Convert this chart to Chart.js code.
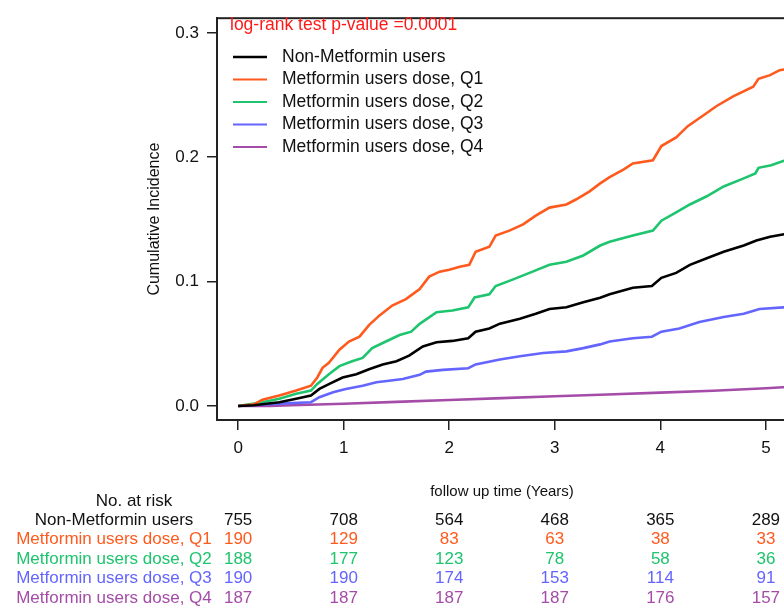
<!DOCTYPE html>
<html>
<head>
<meta charset="utf-8">
<script src="https://cdn.jsdelivr.net/npm/chart.js@4.4.0/dist/chart.umd.min.js"></script>
<style>
  body { margin: 0; overflow: hidden; background: #fff; }
</style>
</head>
<body>
<canvas id="kmChart" width="800" height="610"></canvas>
<script>
// follow-up years and cumulative incidence
const nonTime = [0, 0.15, 0.39, 0.55, 0.69, 0.77, 0.86, 0.99, 1.12, 1.24, 1.37, 1.50, 1.62, 1.75, 1.88, 2.03, 2.18, 2.25, 2.38, 2.48, 2.67, 2.82, 2.95, 3.11, 3.27, 3.43, 3.52, 3.74, 3.92, 4.01, 4.15, 4.28, 4.44, 4.60, 4.79, 4.91, 5.04, 5.20]
const nonInc = [0, 0.0006, 0.003, 0.0058, 0.0084, 0.0137, 0.0176, 0.0229, 0.0255, 0.0295, 0.0334, 0.036, 0.0405, 0.0478, 0.0512, 0.0523, 0.0544, 0.0597, 0.0623, 0.0662, 0.0701, 0.0741, 0.078, 0.0793, 0.0833, 0.087, 0.0898, 0.095, 0.0964, 0.103, 0.107, 0.1135, 0.1187, 0.124, 0.129, 0.133, 0.136, 0.1385]

const q1Time = [0, 0.15, 0.23, 0.39, 0.55, 0.69, 0.75, 0.80, 0.86, 0.96, 1.05, 1.15, 1.24, 1.34, 1.46, 1.59, 1.72, 1.81, 1.91, 2.0, 2.1, 2.19, 2.25, 2.38, 2.44, 2.57, 2.70, 2.82, 2.95, 3.11, 3.20, 3.33, 3.43, 3.52, 3.65, 3.74, 3.93, 4.01, 4.15, 4.26, 4.44, 4.53, 4.69, 4.88, 4.93, 5.04, 5.13, 5.20]
const q1Inc = [0, 0.0013, 0.005, 0.0084, 0.0124, 0.0163, 0.0229, 0.0307, 0.0347, 0.0452, 0.0518, 0.0557, 0.065, 0.0728, 0.0807, 0.0859, 0.094, 0.104, 0.108, 0.1095, 0.112, 0.1135, 0.124, 0.128, 0.137, 0.141, 0.146, 0.153, 0.1595, 0.162, 0.166, 0.1726, 0.179, 0.184, 0.190, 0.195, 0.1976, 0.209, 0.216, 0.225, 0.2356, 0.241, 0.249, 0.2567, 0.263, 0.266, 0.270, 0.271]

const q2Time = [0, 0.23, 0.39, 0.55, 0.69, 0.75, 0.86, 0.96, 1.08, 1.18, 1.27, 1.40, 1.53, 1.64, 1.72, 1.88, 2.03, 2.18, 2.24, 2.38, 2.44, 2.60, 2.79, 2.95, 3.11, 3.27, 3.43, 3.52, 3.74, 3.93, 4.01, 4.15, 4.28, 4.44, 4.60, 4.79, 4.90, 4.93, 5.05, 5.20]
const q2Inc = [0, 0.003, 0.0058, 0.0098, 0.0124, 0.0177, 0.0255, 0.032, 0.036, 0.0386, 0.0465, 0.0518, 0.057, 0.0597, 0.066, 0.0754, 0.0767, 0.0793, 0.0872, 0.0898, 0.0964, 0.1016, 0.108, 0.1135, 0.116, 0.121, 0.129, 0.132, 0.137, 0.141, 0.149, 0.1556, 0.162, 0.1686, 0.1765, 0.183, 0.187, 0.1915, 0.1936, 0.198]

const q3Time = [0, 0.39, 0.69, 0.77, 0.90, 1.02, 1.18, 1.31, 1.43, 1.56, 1.72, 1.78, 1.94, 2.18, 2.25, 2.48, 2.67, 2.89, 3.11, 3.27, 3.43, 3.52, 3.74, 3.92, 4.01, 4.18, 4.37, 4.60, 4.79, 4.94, 5.20]
const q3Inc = [0, 0.0019, 0.003, 0.007, 0.011, 0.0137, 0.0163, 0.019, 0.0203, 0.0216, 0.025, 0.0276, 0.029, 0.0303, 0.0334, 0.0374, 0.04, 0.0426, 0.0439, 0.0465, 0.0495, 0.0518, 0.0544, 0.0557, 0.0597, 0.0623, 0.0675, 0.0715, 0.0741, 0.078, 0.0795]

const q4Time = [0, 0.3, 0.5, 1.0, 1.5, 2.0, 2.5, 3.0, 3.5, 4.0, 4.5, 5.0, 5.2]
const q4Inc = [0, 0, 0.0006, 0.0018, 0.0033, 0.0048, 0.0063, 0.0078, 0.0092, 0.0107, 0.0122, 0.0142, 0.0152]

const groupNames = ['Non-Metformin users', 'Metformin users dose, Q1', 'Metformin users dose, Q2', 'Metformin users dose, Q3', 'Metformin users dose, Q4']
const groupColors = ['#000000', '#ff5a1e', '#1ec46e', '#6464ff', '#a44ca8']

const yearTicks = [0, 1, 2, 3, 4, 5]
const incTicks = [0, 0.1, 0.2, 0.3]

// number at risk at each year tick
const nonRisk = [755, 708, 564, 468, 365, 289]
const q1Risk = [190, 129, 83, 63, 38, 33]
const q2Risk = [188, 177, 123, 78, 58, 36]
const q3Risk = [190, 190, 174, 153, 114, 91]
const q4Risk = [187, 187, 187, 187, 176, 157]

const pValueText = 'log-rank test p-value =0.0001'

const FONT = "'Liberation Sans', Arial, sans-serif"

function pts(ts, vs) {
  return ts.map((t, i) => ({ x: t, y: vs[i] }))
}

const curves = [pts(nonTime, nonInc), pts(q1Time, q1Inc), pts(q2Time, q2Inc), pts(q3Time, q3Inc), pts(q4Time, q4Inc)]
const riskRows = [nonRisk, q1Risk, q2Risk, q3Risk, q4Risk]

// R style extras: box, titles, legend, risk table
const extras = {
  id: 'extras',
  afterDraw(chart) {
    const ctx = chart.ctx
    const a = chart.chartArea
    const xs = chart.scales.x
    ctx.save()

    ctx.strokeStyle = '#222'
    ctx.lineWidth = 2
    ctx.strokeRect(a.left, a.top, a.right - a.left, a.bottom - a.top)

    // y title
    ctx.save()
    ctx.translate(155, (a.top + a.bottom) / 2)
    ctx.rotate(-Math.PI / 2)
    ctx.fillStyle = '#111'
    ctx.font = '16px ' + FONT
    ctx.textAlign = 'center'
    ctx.textBaseline = 'middle'
    ctx.fillText('Cumulative Incidence', 0, 0)
    ctx.restore()

    ctx.textBaseline = 'middle'
    ctx.textAlign = 'left'
    ctx.font = '17.5px ' + FONT
    ctx.fillStyle = '#ff1a1a'
    ctx.fillText(pValueText, 230, 25)

    // legend
    for (let i = 0; i < groupNames.length; i++) {
      const y = 57 + i * 22.5
      ctx.strokeStyle = groupColors[i]
      ctx.lineWidth = i === 0 ? 2.5 : 2
      ctx.beginPath()
      ctx.moveTo(233, y)
      ctx.lineTo(267, y)
      ctx.stroke()
      ctx.fillStyle = '#111'
      ctx.fillText(groupNames[i], 282, y)
    }

    // x title
    ctx.textAlign = 'center'
    ctx.font = '15px ' + FONT
    ctx.fillStyle = '#111'
    ctx.fillText('follow up time (Years)', (a.left + a.right) / 2, 492)

    // risk table
    ctx.font = '17px ' + FONT
    ctx.fillText('No. at risk', 134, 501)
    for (let r = 0; r < riskRows.length; r++) {
      const y = 520 + r * 19.5
      ctx.fillStyle = r === 0 ? '#111' : groupColors[r]
      ctx.textAlign = 'center'
      ctx.fillText(groupNames[r], 114, y)
      riskRows[r].forEach((n, i) => {
        ctx.fillText(String(n), xs.getPixelForValue(yearTicks[i]), y)
      })
    }
    ctx.restore()
  }
}

const ctx = document.getElementById('kmChart').getContext('2d')

const myChart = new Chart(ctx, {
  type: 'line',
  data: {
    datasets: curves.map((d, i) => ({
      label: groupNames[i],
      data: d,
      borderColor: groupColors[i],
      borderWidth: 2.6,
      pointRadius: 0,
      tension: 0,
      fill: false
    }))
  },
  options: {
    responsive: false,
    animation: false,
    layout: { padding: { top: 10, right: 13, left: 0, bottom: 0 } },
    plugins: { legend: { display: false }, tooltip: { enabled: false } },
    scales: {
      x: {
        type: 'linear',
        min: -0.2,
        max: 5.2,
        afterBuildTicks: s => { s.ticks = yearTicks.map(v => ({ value: v })) },
        afterFit: s => { s.height = 190 },
        grid: { drawOnChartArea: false, tickLength: 10, color: '#222', lineWidth: 1.5 },
        border: { display: true, color: '#222', width: 2 },
        ticks: { color: '#111', font: { size: 17, family: FONT }, padding: 8, maxRotation: 0 }
      },
      y: {
        min: -0.0113,
        max: 0.3118,
        afterBuildTicks: s => { s.ticks = incTicks.map(v => ({ value: v })) },
        afterFit: s => { s.width = 217 },
        grid: { drawOnChartArea: false, tickLength: 10, color: '#222', lineWidth: 1.5 },
        border: { display: true, color: '#222', width: 2 },
        ticks: { color: '#111', font: { size: 17, family: FONT }, padding: 8, callback: v => v.toFixed(1) }
      }
    }
  },
  plugins: [extras]
})
</script>
</body>
</html>
